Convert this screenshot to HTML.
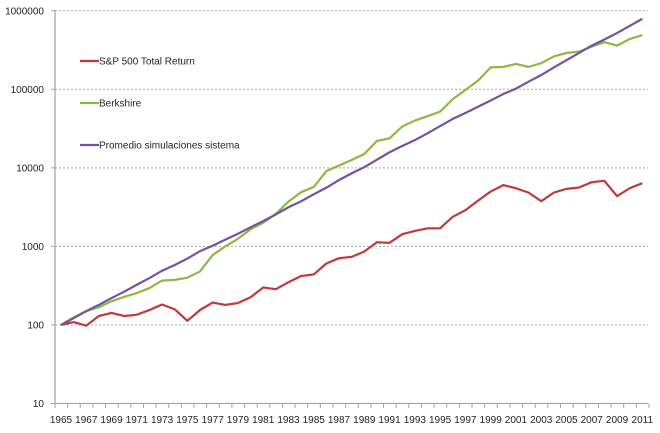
<!DOCTYPE html>
<html><head><meta charset="utf-8"><style>
body{margin:0;background:#fff}
svg{display:block;font-family:"Liberation Sans",sans-serif}
</style></head><body>
<svg id="chart" width="660" height="433" viewBox="0 0 660 433" xmlns="http://www.w3.org/2000/svg"></svg>
<script>
const years=[];for(let y=1965;y<=2011;y++)years.push(y);
const sp500=[100,109,98,130,142,130,135,155,182,158,113,155,193,180,190,225,300,285,350,420,440,606,708,735,860,1130,1110,1430,1575,1700,1700,2380,2890,3820,4990,6030,5500,4840,3760,4840,5400,5620,6570,6840,4360,5500,6380];
const berkshire=[100,125,150,168,200,228,255,295,367,375,400,480,776,1000,1250,1650,2000,2600,3720,4900,5700,9100,10700,12600,15000,22000,23800,33600,40000,45500,52000,75000,98000,129000,190000,193000,210000,193000,215000,262000,290000,302000,350000,398000,360000,437000,490000];
const promedio=[100,122,150,180,220,265,325,395,490,580,700,870,1020,1220,1450,1750,2100,2550,3150,3750,4600,5600,7000,8500,10200,12700,15800,19000,22500,27500,34000,42000,50000,60000,72000,87000,102000,125000,152000,190000,235000,290000,360000,430000,520000,640000,790000];
const yTicks=[10,100,1000,10000,100000,1000000];
const NS="http://www.w3.org/2000/svg";
const svg=document.getElementById('chart');
const X0=61,XS=(642.3-61)/46,Y10=403.5,DEC=78.55;
const xs=yr=>X0+(yr-1965)*XS;
const ys=v=>Y10-(Math.log10(v)-1)*DEC;
function el(t,a){const e=document.createElementNS(NS,t);for(const k in a)e.setAttribute(k,a[k]);svg.appendChild(e);return e;}
// grid + y labels
yTicks.forEach(v=>{
  const y=ys(v);
  if(v>10){const g=el('line',{x1:55,x2:648,y1:y,y2:y,stroke:'#a6a6a6','stroke-dasharray':'2,2','stroke-width':1});
  
  }
  const tk=el('line',{x1:51,x2:55,y1:y,y2:y,stroke:'#a6a6a6'});
  
  
  const t=el('text',{x:44,y:y+3.5,'text-anchor':'end','font-size':10,fill:'#222'});
  t.textContent=v;
  
  
});
const ya=el('line',{x1:55,x2:55,y1:10,y2:404,stroke:'#a6a6a6','stroke-width':1.3});


const xa=el('line',{x1:55,x2:648,y1:403.5,y2:403.5,stroke:'#a6a6a6','stroke-width':1.3});


for(let i=0;i<=47;i++){
  const x=55+i*XS;
  const tk=el('line',{x1:x,x2:x,y1:403.5,y2:408,stroke:'#a6a6a6'});
  
  
}
years.forEach((yr,i)=>{ if(i%2)return;
  const t=el('text',{x:xs(yr),y:423,'text-anchor':'middle','font-size':10,fill:'#222'});
  t.textContent=yr;
  
  
});
function series(vals,color,name){
  const p=el('polyline',{points:vals.map((v,i)=>xs(years[i])+','+ys(v)).join(' '),fill:'none',stroke:color,'stroke-width':2.2,'stroke-linejoin':'round'});
  
  
}
series(sp500,'#c0393b','sp500-line');
series(berkshire,'#8db843','berkshire-line');
series(promedio,'#7352a2','promedio-line');
const leg=[['S&P 500 Total Return','#c0393b',61],['Berkshire','#8db843',103],['Promedio simulaciones sistema','#7352a2',145]];
leg.forEach(l=>{
  const ln=el('line',{x1:80,x2:99,y1:l[2],y2:l[2],stroke:l[1],'stroke-width':2.2});
  
  
  const t=el('text',{x:99,y:l[2]+3.5,'font-size':10,fill:'#222'});
  t.textContent=l[0];
  
  
});
</script>
</body></html>
